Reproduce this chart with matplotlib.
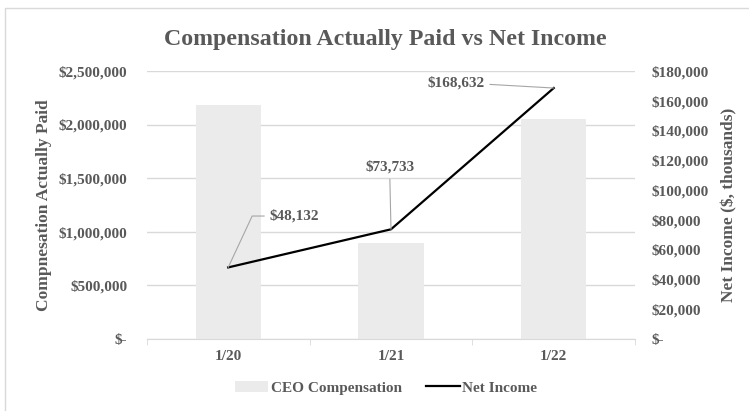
import matplotlib.pyplot as plt
from matplotlib.patches import Rectangle

plt.rcParams['font.family'] = ['Liberation Serif', 'DejaVu Serif']
plt.rcParams['font.weight'] = 'bold'

years = ['1/20', '1/21', '1/22']
ceo_comp = [2186000, 898000, 2052000]
net_income = [48132, 73733, 168632]
label_text = ['$48,132', '$73,733', '$168,632']
left_ticks = [0, 500000, 1000000, 1500000, 2000000, 2500000]
right_ticks = [0, 20000, 40000, 60000, 80000, 100000, 120000, 140000, 160000, 180000]

txt = '#595959'
grid = '#d9d9d9'

def money(v):
    return '$-' if v == 0 else '${:,.0f}'.format(v)

fig = plt.figure(figsize=(7.49, 4.11), dpi=100)
ax = fig.add_axes([0.196, 0.175, 0.652, 0.652])
ax2 = ax.twinx()
ax.set_zorder(1)
ax2.set_zorder(2)
ax.patch.set_visible(False)

x = range(len(years))
ax.bar(x, ceo_comp, width=0.4, color='#ebebeb', zorder=2, label='CEO Compensation')
ax.set_xlim(-0.5, 2.5)
ax.set_ylim(0, 2500000)
ax.set_yticks(left_ticks)
ax.set_yticklabels([money(v) for v in left_ticks], fontweight='bold', fontsize=11)
ax.grid(axis='y', color=grid, lw=1, zorder=0)
ax.set_xticks(list(x))
ax.set_xticklabels(years, fontweight='bold', fontsize=11)
ax.set_xticks([-0.5, 0.5, 1.5, 2.5], minor=True)
ax.tick_params(axis='x', which='major', length=0, pad=8, colors=txt)
ax.tick_params(axis='x', which='minor', length=4, color=grid)
ax.tick_params(axis='y', length=0, pad=14, colors=txt)
for s in ['top', 'left', 'right']:
    ax.spines[s].set_visible(False)
ax.spines['bottom'].set_color(grid)
ax.set_ylabel('Compnesation Actually Paid', fontsize=12.5, color=txt, labelpad=5, fontweight='bold')

ax2.plot(x, net_income, color='black', lw=1.6, label='Net Income')
ax2.set_ylim(0, 180000)
ax2.set_yticks(right_ticks)
ax2.set_yticklabels([money(v) for v in right_ticks], fontweight='bold', fontsize=11)
ax2.tick_params(axis='y', length=0, pad=12, colors=txt)
for s in ax2.spines.values():
    s.set_visible(False)
ax2.set_ylabel('Net Income ($, thousands)', fontsize=12.5, color=txt, rotation=90, labelpad=9,
               fontweight='bold')

# data labels with leader lines (offsets in points)
offsets = [(30, 37), (-1, 45), (-50, 4)]
has = ['left', 'center', 'right']
conns = ['angle,angleA=0,angleB=65,rad=0', 'arc3', 'arc3']
for i in range(3):
    ax2.annotate(label_text[i], (i, net_income[i]), xytext=offsets[i], textcoords='offset points',
                 ha=has[i], va='center', fontsize=11, color=txt, fontweight='bold',
                 arrowprops=dict(arrowstyle='-', color='#a6a6a6', lw=0.8, shrinkA=2, shrinkB=0,
                                 connectionstyle=conns[i]))

h1, l1 = ax.get_legend_handles_labels()
h2, l2 = ax2.get_legend_handles_labels()
leg = fig.legend(h1 + h2, l1 + l2, loc='center', bbox_to_anchor=(0.515, 0.056), ncol=2, frameon=False,
                 labelcolor=txt, handlelength=2.2, handletextpad=0.15, columnspacing=1.6,
                 prop={'weight': 'bold', 'size': 11})

fig.suptitle('Compensation Actually Paid vs Net Income', x=0.515, y=0.93, fontsize=17.2, color=txt,
             fontweight='bold')

fig.patches.append(Rectangle((0.007, -0.05), 1.1, 1.03, transform=fig.transFigure,
                             fill=False, edgecolor='#d9d9d9', lw=1))

fig.savefig('out.png', dpi=100)
